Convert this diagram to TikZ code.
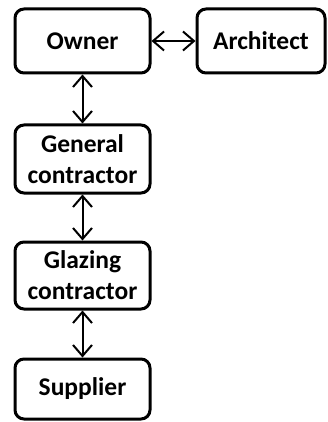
\documentclass[tikz,border=0pt]{standalone}
\usepackage{fontspec}
\setmainfont{Carlito}
\usetikzlibrary{arrows.meta}
\begin{document}
\begin{tikzpicture}[x=1pt,y=-1pt,
  box/.style={draw=black,line width=3pt,rounded corners=9pt,align=center,
    inner sep=0pt,font=\fontsize{25.5}{31}\selectfont\bfseries},
  link/.style={line width=2pt,{Straight Barb[length=11pt,width=19pt,line width=2pt]}-{Straight Barb[length=11pt,width=19pt,line width=2pt]}}]
\useasboundingbox (0,0) rectangle (327,422);
\node[box,minimum width=135pt,minimum height=64pt] (owner) at (82.5,41) {Owner};
\node[box,minimum width=128pt,minimum height=64pt] (arch) at (261,41) {Architect};
\node[box,minimum width=135pt,minimum height=68pt] (gen) at (82.5,159) {General\\contractor};
\node[box,minimum width=135pt,minimum height=67pt] (glaz) at (82.5,275.5) {Glazing\\contractor};
\node[box,minimum width=135pt,minimum height=60pt] (sup) at (82.5,389) {Supplier};
\draw[link] (owner) -- (arch);
\draw[link] (owner) -- (gen);
\draw[link] (gen) -- (glaz);
\draw[link] (glaz) -- (sup);
\end{tikzpicture}
\end{document}
